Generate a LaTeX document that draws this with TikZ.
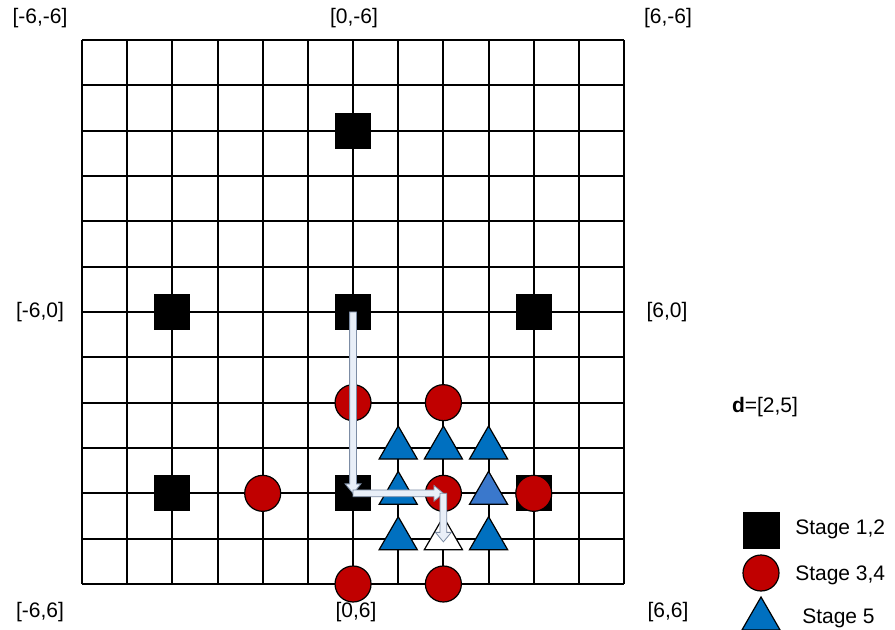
\documentclass[tikz,border=0pt]{standalone}
\usepackage{fontspec}
\setmainfont{Liberation Sans}
\usetikzlibrary{shapes.geometric,shapes.arrows,calc}
\definecolor{cred}{HTML}{C00000}
\definecolor{tblue}{HTML}{0070C0}
\definecolor{tlblue}{HTML}{3A78CC}
\definecolor{afill}{HTML}{E9EFF8}
\definecolor{aedge}{HTML}{7C8CA4}
\newcommand\blockarr[3]{\path let \p1=($(#2)-(#1)$), \n1={veclen(\x1,\y1)}, \n2={atan2(\y1,\x1)} in node[blockarrow, minimum height=\n1, rotate=\n2] (#3) at (#1) {};}
\begin{document}
\begin{tikzpicture}[x=0.75pt,y=-0.75pt, font=\fontsize{15.75}{18}\selectfont,
 sq/.style={draw=black, fill=black, minimum size=26.25pt, inner sep=0pt, outer sep=0pt, line width=0.6pt},
 ci/.style={circle, draw=black, fill=cred, minimum size=27pt, inner sep=0pt, outer sep=0pt, line width=0.9pt},
 tr/.style={regular polygon, regular polygon sides=3, draw=black, fill=tblue, minimum size=33pt, inner sep=0pt, outer sep=0pt, line width=0.9pt},
 gridline/.style={line width=1.5pt, black},
 lab/.style={inner sep=0pt},
 blockarrow/.style={single arrow, draw=aedge, fill=afill, line width=0.6pt, inner xsep=0pt, inner ysep=2.25pt, outer sep=0pt, single arrow head extend=3.4pt, single arrow tip angle=80, anchor=tail}]
\useasboundingbox (0,0) rectangle (895,630);
\begin{scope}[shift={(82,40)}, x=33.88pt, y=-34pt]
  \foreach \i in {0,...,12} {
    \draw[gridline] (\i,0) -- (\i,12);
    \draw[gridline] (0,\i) -- (12,\i);
  }
  % stage 1,2 squares
  \node[sq] (s62) at (6,2) {};
  \node[sq] (s26) at (2,6) {};
  \node[sq] (s66) at (6,6) {};
  \node[sq] (s106) at (10,6) {};
  \node[sq] (s210) at (2,10) {};
  \node[sq] (s610) at (6,10) {};
  \node[sq] (s1010) at (10,10) {};
  % stage 3,4 circles
  \node[ci] (c68) at (6,8) {};
  \node[ci] (c88) at (8,8) {};
  \node[ci] (c410) at (4,10) {};
  \node[ci] (c810) at (8,10) {};
  \node[ci] (c1010) at (10,10) {};
  \node[ci] (c612) at (6,12) {};
  \node[ci] (c812) at (8,12) {};
  % stage 5 triangles
  \node[tr] (t79) at (7,9) {};
  \node[tr] (t89) at (8,9) {};
  \node[tr] (t99) at (9,9) {};
  \node[tr] (t710) at (7,10) {};
  \node[tr, fill=tlblue] (t910) at (9,10) {};
  \node[tr] (t711) at (7,11) {};
  \node[tr, fill=white] (t811) at (8,11) {};
  \node[tr] (t911) at (9,11) {};
  \coordinate (end3) at (8,11.07);
\end{scope}
% path arrows
\blockarr{s66.center}{s610.center}{a1}
\blockarr{s610.center}{c810.center}{a2}
\blockarr{c810.center}{end3}{a3}
% corner labels
\node[lab] (l1) at (40,18) {[-6,-6]};
\node[lab] (l2) at (354,18) {[0,-6]};
\node[lab] (l3) at (668,18) {[6,-6]};
\node[lab] (l4) at (40,312) {[-6,0]};
\node[lab] (l5) at (667,312) {[6,0]};
\node[lab] (l6) at (40,612) {[-6,6]};
\node[lab] (l7) at (356,612) {[0,6]};
\node[lab] (l8) at (668,612) {[6,6]};
\node[lab] (dl) at (765,407) {\textbf{d}=[2,5]};
% legend
\node[sq, minimum size=27pt] (lsq) at (761,530) {};
\node[ci] (lci) at (761,573) {};
\node[tr] (ltr) at (761,619) {};
\node[lab, anchor=west] (lt1) at (795,529) {Stage 1,2};
\node[lab, anchor=west] (lt2) at (795,575) {Stage 3,4};
\node[lab, anchor=west] (lt3) at (802,618) {Stage 5};
\end{tikzpicture}
\end{document}
